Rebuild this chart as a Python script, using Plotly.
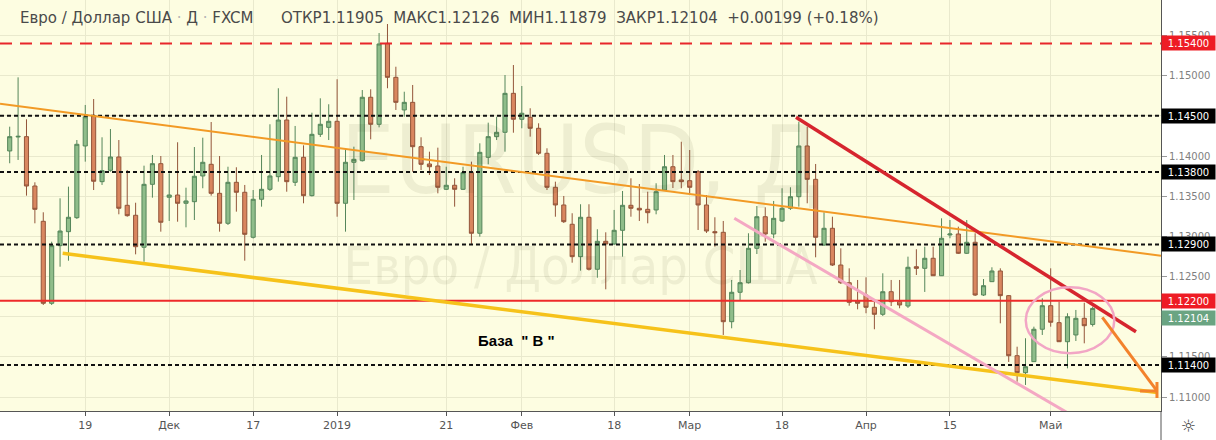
import pandas as pd
import plotly.graph_objects as go

# ---------------- data ----------------
dates = [d.strftime("%Y-%m-%d") for d in pd.bdate_range(
    "2018-11-06", "2019-05-08", freq="C", holidays=["2018-12-25", "2019-01-01"])]

opens = [
    1.14063, 1.14237, 1.14241, 1.13627, 1.13188, 1.12168, 1.12885, 1.13059, 1.13233, 1.14125,
    1.14502, 1.13681, 1.13822, 1.13988, 1.13387, 1.13263, 1.12865, 1.13648, 1.13905, 1.13487,
    1.13515, 1.13412, 1.13432, 1.13752, 1.13897, 1.13536, 1.13163, 1.13673, 1.13549, 1.12989,
    1.13462, 1.13586, 1.13743, 1.14448, 1.13673, 1.13984, 1.13507, 1.14270, 1.14357, 1.14432,
    1.13412, 1.13922, 1.13942, 1.14731, 1.14395, 1.15402, 1.14979, 1.14573, 1.14668, 1.14116,
    1.13901, 1.13876, 1.13586, 1.13636, 1.13586, 1.13793, 1.13039, 1.13984, 1.14241, 1.14295,
    1.14780, 1.14457, 1.14482, 1.14345, 1.14034, 1.13611, 1.13391, 1.13151, 1.12748, 1.13238,
    1.12591, 1.12939, 1.12906, 1.13076, 1.13387, 1.13350, 1.13337, 1.13329, 1.13577, 1.13867,
    1.13702, 1.13693, 1.13805, 1.13391, 1.13059, 1.13051, 1.11939, 1.12305, 1.12424, 1.12852,
    1.13245, 1.13030, 1.13192, 1.13350, 1.13494, 1.14125, 1.13710, 1.12893, 1.13101, 1.12644,
    1.12424, 1.12197, 1.12271, 1.12118, 1.12031, 1.12312, 1.12188, 1.12134, 1.12623, 1.12603,
    1.12728, 1.12511, 1.13018, 1.13030, 1.12790, 1.12927, 1.12271, 1.12437, 1.12570, 1.12263,
    1.11516, 1.11305, 1.11442, 1.11845, 1.12138, 1.11927, 1.11690, 1.11774, 1.11981, 1.11905,
]
highs = [
    1.14365, 1.14979, 1.14457, 1.13673, 1.13300, 1.12934, 1.13474, 1.13619, 1.14199, 1.14635,
    1.14709, 1.14233, 1.14336, 1.14199, 1.13826, 1.13419, 1.13880, 1.14013, 1.14000, 1.13785,
    1.14171, 1.13606, 1.14112, 1.14228, 1.14423, 1.14000, 1.13867, 1.13860, 1.13640, 1.13577,
    1.14013, 1.14395, 1.14843, 1.14738, 1.14374, 1.14133, 1.14539, 1.14718, 1.14644, 1.14955,
    1.14096, 1.14116, 1.14821, 1.14830, 1.15530, 1.15642, 1.15111, 1.14800, 1.14884, 1.14233,
    1.14054, 1.14104, 1.13867, 1.13723, 1.13867, 1.13930, 1.14158, 1.14415, 1.14489, 1.15008,
    1.15132, 1.14871, 1.14594, 1.14407, 1.14096, 1.13681, 1.13503, 1.13288, 1.13400, 1.13400,
    1.13089, 1.13051, 1.13329, 1.13565, 1.13723, 1.13652, 1.13556, 1.13661, 1.14013, 1.14013,
    1.14178, 1.14075, 1.13826, 1.13515, 1.13238, 1.13192, 1.12458, 1.12582, 1.13039, 1.13378,
    1.13362, 1.13441, 1.13599, 1.13611, 1.14427, 1.14365, 1.13901, 1.13300, 1.13245, 1.12852,
    1.12603, 1.12458, 1.12491, 1.12218, 1.12541, 1.12458, 1.12458, 1.12748, 1.12840, 1.12872,
    1.12872, 1.13225, 1.13204, 1.13121, 1.13204, 1.13039, 1.12470, 1.12616, 1.12603, 1.12271,
    1.11628, 1.11733, 1.11877, 1.12230, 1.12603, 1.12188, 1.12044, 1.12085, 1.12175, 1.12126,
]
lows = [
    1.13910, 1.13951, 1.13507, 1.13163, 1.12147, 1.12147, 1.12623, 1.12698, 1.13217, 1.13930,
    1.13577, 1.13640, 1.13805, 1.13275, 1.13245, 1.12777, 1.12685, 1.13482, 1.13059, 1.13192,
    1.13183, 1.13113, 1.13204, 1.13599, 1.13507, 1.13059, 1.13142, 1.13308, 1.12698, 1.12974,
    1.13370, 1.13565, 1.13681, 1.13556, 1.13627, 1.13412, 1.13497, 1.14237, 1.14199, 1.13245,
    1.13059, 1.13453, 1.13932, 1.14208, 1.14357, 1.14843, 1.14573, 1.14489, 1.13805, 1.13826,
    1.13764, 1.13536, 1.13577, 1.13370, 1.13577, 1.12902, 1.12997, 1.13897, 1.14199, 1.14054,
    1.14290, 1.14345, 1.14241, 1.14013, 1.13577, 1.13245, 1.13167, 1.12673, 1.12574, 1.12576,
    1.12486, 1.12342, 1.12893, 1.12748, 1.13245, 1.13192, 1.13163, 1.13275, 1.13565, 1.13602,
    1.13599, 1.13540, 1.13080, 1.13043, 1.12872, 1.11774, 1.11857, 1.12209, 1.12414, 1.12781,
    1.12934, 1.12977, 1.13179, 1.13329, 1.13370, 1.13412, 1.12740, 1.12881, 1.12632, 1.12408,
    1.12138, 1.12093, 1.12044, 1.11845, 1.12010, 1.12134, 1.12106, 1.12110, 1.12520, 1.12309,
    1.12508, 1.12508, 1.12977, 1.12781, 1.12781, 1.12259, 1.12259, 1.12433, 1.11919, 1.11438,
    1.11193, 1.11152, 1.11438, 1.11774, 1.11877, 1.11687, 1.11359, 1.11699, 1.11670, 1.11879,
]
closes = [
    1.14241, 1.14245, 1.13627, 1.13337, 1.12168, 1.12885, 1.13067, 1.13238, 1.14146, 1.14489,
    1.13686, 1.13818, 1.13988, 1.13350, 1.13258, 1.12872, 1.13648, 1.13905, 1.13176, 1.13515,
    1.13412, 1.13441, 1.13748, 1.13922, 1.13536, 1.13163, 1.13673, 1.13549, 1.13026, 1.13462,
    1.13586, 1.13752, 1.14448, 1.13681, 1.13984, 1.13507, 1.14270, 1.14395, 1.14432, 1.13412,
    1.13922, 1.13959, 1.14731, 1.14395, 1.15394, 1.14979, 1.14668, 1.14668, 1.14116, 1.13897,
    1.13867, 1.13611, 1.13636, 1.13586, 1.13793, 1.13039, 1.14046, 1.14241, 1.14295, 1.14780,
    1.14457, 1.14532, 1.14345, 1.14034, 1.13611, 1.13391, 1.13183, 1.12748, 1.13238, 1.12591,
    1.12939, 1.12906, 1.13076, 1.13387, 1.13350, 1.13329, 1.13295, 1.13556, 1.13867, 1.13681,
    1.13681, 1.13611, 1.13391, 1.13067, 1.13046, 1.11939, 1.12305, 1.12424, 1.12852, 1.13245,
    1.13030, 1.13225, 1.13350, 1.13494, 1.14125, 1.13710, 1.12989, 1.13101, 1.12644, 1.12424,
    1.12180, 1.12168, 1.12118, 1.12031, 1.12312, 1.12188, 1.12147, 1.12616, 1.12603, 1.12728,
    1.12511, 1.12977, 1.13030, 1.12790, 1.12927, 1.12271, 1.12387, 1.12570, 1.12263, 1.11516,
    1.11305, 1.11379, 1.11845, 1.12138, 1.11932, 1.11690, 1.12001, 1.11981, 1.11889, 1.12104,
]

tick_dates = ["2018-11-19", "2018-12-03", "2018-12-17", "2019-01-02", "2019-01-21", "2019-02-01",
              "2019-02-18", "2019-03-01", "2019-03-18", "2019-04-01", "2019-04-15", "2019-05-01"]
tick_labels = ["19", "Дек", "17", "2019", "21", "Фев", "18", "Мар", "18", "Апр", "15", "Май"]

level_prices = [1.15400, 1.14500, 1.13800, 1.12900, 1.12200, 1.11400]
level_styles = ["red_dash", "black_dot", "black_dot", "black_dot", "red_solid", "black_dot"]
last_price = 1.12104

header_title = "Евро / Доллар США · Д · FXCM"
header_tokens = ["ОТКР1.11905", "МАКС1.12126", "МИН1.11879", "ЗАКР1.12104", "+0.00199 (+0.18%)"]

# ---------------- figure ----------------
fig = go.Figure()

WM = "rgba(60,60,20,0.075)"
WM_FONT = "Liberation Sans Narrow, DejaVu Sans Condensed, sans-serif"
fig.add_trace(go.Scatter(
    x=["2019-02-12"], y=[1.13839], mode="text", text=["EURUSD, Д"],
    textfont=dict(family=WM_FONT, size=95, color=WM), hoverinfo="skip"))
fig.add_trace(go.Scatter(
    x=["2019-02-12"], y=[1.12570], mode="text", text=["Евро / Доллар США"],
    textfont=dict(family=WM_FONT, size=52, color=WM), hoverinfo="skip"))

fig.add_trace(go.Candlestick(
    x=dates, open=opens, high=highs, low=lows, close=closes,
    increasing=dict(line=dict(color="#55865a", width=1), fillcolor="#8fbd8a"),
    decreasing=dict(line=dict(color="#93553a", width=1), fillcolor="#d9865f"),
    whiskerwidth=0, hoverinfo="skip"))

shapes = []
for p, st in zip(level_prices, level_styles):
    if st == "red_dash":
        ln = dict(color="#e8262b", width=2, dash="12px,8px")
    elif st == "red_solid":
        ln = dict(color="#ee2a2a", width=2)
    else:
        ln = dict(color="#111111", width=2, dash="4px,3px")
    shapes.append(dict(type="line", xref="paper", x0=0, x1=1, yref="y", y0=p, y1=p, line=ln))

# drawn trend lines
shapes += [
    dict(type="line", xref="x", yref="y", x0=-1.155, y0=1.14651, x1=137.14, y1=1.12759,
         line=dict(color="#f29a25", width=2)),
    dict(type="line", xref="x", yref="y", x0=6.31, y0=1.12790, x1=136.67, y1=1.11058,
         line=dict(color="#f6c21a", width=3.5)),
    dict(type="line", xref="x", yref="y", x0=93.66, y0=1.14482, x1=134.16, y1=1.11814,
         line=dict(color="#d6252e", width=3.5)),
    dict(type="line", xref="x", yref="y", x0=86.31, y0=1.13225, x1=128.69, y1=1.10642,
         line=dict(color="#f4a8c3", width=3)),
    dict(type="circle", xref="x", yref="y", x0=121.03, x1=131.58, y0=1.11546, y1=1.12367,
         line=dict(color="#f2a6c5", width=2.5)),
    dict(type="line", xref="x", yref="y", x0=130.15, y0=1.11994, x1=136.66, y1=1.11077,
         line=dict(color="#f3822c", width=3)),
    dict(type="line", xref="x", yref="y", x0=136.66, y0=1.11189, x1=136.66, y1=1.10990,
         line=dict(color="#f3822c", width=3)),
    dict(type="line", xref="x", yref="y", x0=134.64, y0=1.11077, x1=136.66, y1=1.11077,
         line=dict(color="#f3822c", width=3)),
    # separator under the price scale
    dict(type="line", xref="paper", yref="paper", x0=1, x1=1, y0=0, y1=-29 / 411,
         line=dict(color="#555555", width=1)),
]

annotations = []
# price scale labels
label_colors = {"red_dash": "#ee1c25", "red_solid": "#ee1c25", "black_dot": "#000000"}
LBL_FONT = dict(family="DejaVu Sans", size=10, color="white")
for p, st in zip(level_prices, level_styles):
    annotations.append(dict(
        xref="paper", x=1, xanchor="left", xshift=0, yref="y", y=p, yanchor="middle",
        text=f"{p:.5f}", showarrow=False, bgcolor=label_colors[st], font=LBL_FONT,
        width=51, height=12, borderpad=1, align="center"))
# last-price label (pushed below the 1.12200 label, as the price scale does)
annotations.append(dict(
    xref="paper", x=1, xanchor="left", xshift=0, yref="y", y=last_price, yanchor="middle",
    yshift=-10, text=f"{last_price:.5f}", showarrow=False, bgcolor="#6aa482", font=LBL_FONT,
    width=51, height=12, borderpad=1, align="center"))

# header
hdr_font = dict(family="DejaVu Sans", size=15, color="#4a4a4a")
title_html = header_title.replace(" · ", ' <span style="color:#b5b5b5">·</span> ')
annotations.append(dict(xref="paper", yref="paper", x=0, y=1, xanchor="left", yanchor="middle",
                        xshift=18, yshift=-18, text=title_html, showarrow=False, font=hdr_font))
gap = "\u00a0\u00a0"
annotations.append(dict(xref="paper", yref="paper", x=0, y=1, xanchor="left", yanchor="middle",
                        xshift=279, yshift=-18, text=gap.join(header_tokens), showarrow=False,
                        font=hdr_font))

# base label
annotations.append(dict(xref="x", yref="y", x=60.31, y=1.11699, showarrow=False,
                        text="<b>База\u00a0\u00a0\" В \"</b>",
                        font=dict(family="Liberation Sans, Arial, sans-serif", size=15, color="#000000")))
# settings icon
annotations.append(dict(xref="paper", yref="paper", x=1, y=0, xanchor="center", yanchor="middle",
                        xshift=27, yshift=-15, text="☼", showarrow=False,
                        font=dict(family="DejaVu Sans", size=17, color="#444444")))

fig.update_layout(
    width=1216, height=440,
    margin=dict(l=0, r=55, t=0, b=29),
    paper_bgcolor="white", plot_bgcolor="#fdfde1",
    showlegend=False,
    font=dict(family="DejaVu Sans", size=11, color="#555555"),
    shapes=shapes, annotations=annotations,
    xaxis=dict(type="category", categoryorder="array", categoryarray=dates,
               range=[-1.155, 137.14], tickmode="array", tickvals=tick_dates, ticktext=tick_labels,
               showgrid=True, gridcolor="#e9e9cd", gridwidth=1, zeroline=False,
               showline=True, linecolor="#555555", linewidth=1,
               ticks="outside", ticklen=4, tickcolor="#555555",
               tickfont=dict(family="DejaVu Sans", size=11, color="#555555"),
               rangeslider=dict(visible=False), fixedrange=True),
    yaxis=dict(side="right", range=[1.10828, 1.15941], tick0=1.11, dtick=0.005, tickformat=".5f",
               showgrid=True, gridcolor="#e9e9cd", gridwidth=1, zeroline=False,
               showline=True, linecolor="#555555", linewidth=1,
               ticks="outside", ticklen=5, tickcolor="#999999",
               tickfont=dict(family="DejaVu Sans", size=10, color="#7f7f7f"), fixedrange=True),
)

fig.write_html("out.html", config={"displayModeBar": False},
               post_script="document.body.style.margin='0';document.body.style.overflow='hidden';")
